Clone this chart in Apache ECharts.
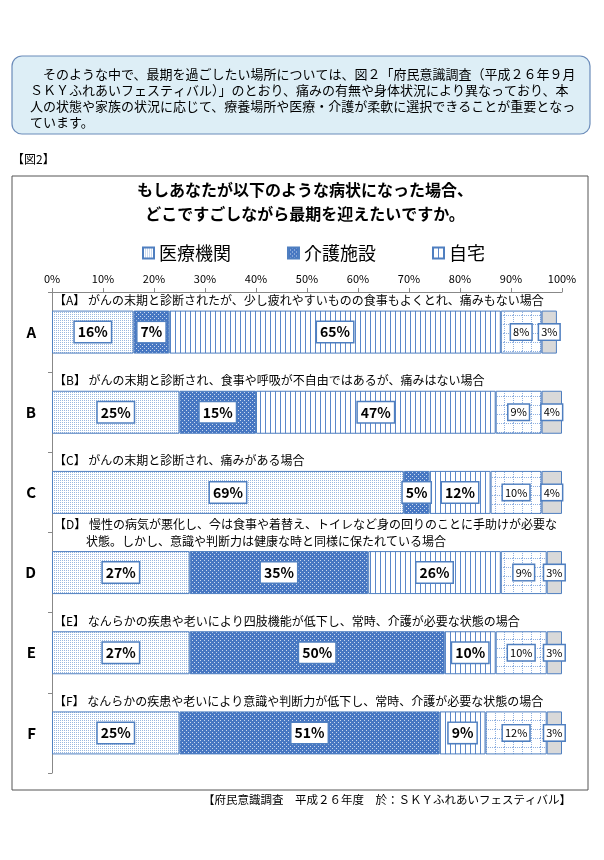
<!DOCTYPE html>
<html><head><meta charset="utf-8">
<script src="https://cdn.jsdelivr.net/npm/echarts@6/dist/echarts.min.js"></script>
<style>html,body{margin:0;padding:0;background:#fff}#c{width:604px;height:860px}</style>
</head><body><div id="c"></div>
<script>
const categories = ['A','B','C','D','E','F'];
const seriesNames = ['医療機関','介護施設','自宅','その他','無回答'];
const iryo   = [16,25,69,27,27,25];
const kaigo  = [7,15,5,35,50,51];
const jitaku = [65,47,12,26,10,9];
const other  = [8,9,10,9,10,12];
const noans  = [3,4,4,3,3,3];
const xTicks = [0,10,20,30,40,50,60,70,80,90,100];
const caseLines = [
  ['【A】 がんの末期と診断されたが、少し疲れやすいものの食事もよくとれ、痛みもない場合'],
  ['【B】 がんの末期と診断され、食事や呼吸が不自由ではあるが、痛みはない場合'],
  ['【C】 がんの末期と診断され、痛みがある場合'],
  ['【D】 慢性の病気が悪化し、今は食事や着替え、トイレなど身の回りのことに手助けが必要な','状態。しかし、意識や判断力は健康な時と同様に保たれている場合'],
  ['【E】 なんらかの疾患や老いにより四肢機能が低下し、常時、介護が必要な状態の場合'],
  ['【F】 なんらかの疾患や老いにより意識や判断力が低下し、常時、介護が必要な状態の場合']
];
const introLines = [
  '　そのような中で、最期を過ごしたい場所については、図２「府民意識調査（平成２６年９月',
  'ＳＫＹふれあいフェスティバル）」のとおり、痛みの有無や身体状況により異なっており、本',
  '人の状態や家族の状況に応じて、療養場所や医療・介護が柔軟に選択できることが重要となっ',
  'ています。'
];
const figLabel = '【図2】';
const chartTitle = 'もしあなたが以下のような病状になった場合、\nどこですごしながら最期を迎えたいですか。';
const footer = '【府民意識調査　平成２６年度　於：ＳＫＹふれあいフェスティバル】';

const FONT = '"Noto Sans CJK JP", "Noto Sans", sans-serif';
function pat(w,h,bg,fg,pts){
  const c=document.createElement('canvas'); c.width=w; c.height=h;
  const x=c.getContext('2d'); x.fillStyle=bg; x.fillRect(0,0,w,h);
  x.fillStyle=fg; pts.forEach(p=>x.fillRect(p[0],p[1],p[2]||1,p[3]||1));
  return {image:c, repeat:'repeat'};
}
const p1 = pat(4,4,'#ffffff','#9ab8e0',[[0,0],[2,2],[2,0],[0,2]]);
const p2 = pat(4,4,'#4777c2','#c9d8ee',[[0,0],[2,2]]);
const p3 = pat(5,4,'#ffffff','#5b87c9',[[0,0,1,4]]);
const gridPts=[]; for(let i=0;i<9;i+=2){gridPts.push([i,0]);gridPts.push([0,i]);}
const p4 = pat(9,9,'#ffffff','#8fb0e0',gridPts);
const p5 = '#d9d9d9';
const pats=[p1,p2,p3,p4,p5];
const dataSets=[iryo,kaigo,jitaku,other,noans];

const chart = echarts.init(document.getElementById('c'));
const BAR=43;
const series = dataSets.map((d,i)=>({
  name: seriesNames[i], type:'bar', stack:'total', barWidth:BAR, data:d,
  itemStyle:{color:pats[i], borderColor:'#4f7fc0', borderWidth:1},
  label:{show:true, position:'inside', formatter:'{c}%', color:'#000', fontFamily:FONT,
    fontSize: i<3?14:11, fontWeight: i<3?'bold':'normal',
    backgroundColor:'#fff', borderColor:'#4f7fc0', borderWidth:1.5,
    padding: i<3?[3,3]:[2,2]},
  emphasis:{disabled:true}
}));
series.push({
  type:'custom', silent:true, clip:false, z:10,
  data: categories.map((c,i)=>[0,i]),
  renderItem:(params, api)=>{
    const p = api.coord([0, api.value(1)]);
    const lines = caseLines[params.dataIndex];
    const top = p[1] - BAR/2 - 4;
    const children = lines.map((t,k)=>({
      type:'text',
      style:{text:t, x:p[0] + 2 + (k>0?32:0), y: top - (lines.length-1-k)*17,
        verticalAlign:'bottom', align:'left', fontSize:12, fontFamily:FONT, fill:'#000'}
    }));
    return {type:'group', children};
  }
});

chart.setOption({
  animation:false,
  textStyle:{fontFamily:FONT},
  grid:{left:52, right:42, top:292, bottom:87},
  legend:{data:seriesNames.slice(0,3), icon:'rect', left:137, top:239, itemWidth:11, itemHeight:11, itemGap:56,
    textStyle:{fontSize:18, color:'#000', fontFamily:FONT}, selectedMode:false},
  xAxis:{type:'value', position:'top', min:0, max:100, interval:10,
    axisLabel:{formatter:v=>xTicks.includes(v)?v+'%':'', fontSize:11, color:'#000', margin:8},
    axisLine:{show:true, lineStyle:{color:'#888'}},
    axisTick:{show:true, length:4, lineStyle:{color:'#888'}},
    splitLine:{show:false}},
  yAxis:{type:'category', inverse:true, data:categories,
    axisLabel:{fontSize:15, fontWeight:'bold', color:'#000', margin:16},
    axisLine:{show:true, lineStyle:{color:'#888'}},
    axisTick:{show:true, length:4, lineStyle:{color:'#888'}}},
  series,
  graphic:[
    {type:'rect', shape:{x:12, y:56, width:578, height:78, r:10}, style:{fill:'#ddeef6', stroke:'#6b8cba', lineWidth:1.2}, z:0},
    {type:'text', style:{text:introLines.join('\n'), x:30, y:66, fontSize:13, lineHeight:16, fontFamily:FONT, fill:'#000'}},
    {type:'text', style:{text:figLabel, x:12, y:153, fontSize:12, fontFamily:FONT, fill:'#000'}},
    {type:'rect', shape:{x:12, y:176, width:576, height:614}, style:{fill:'none', stroke:'#555', lineWidth:1}, z:-1},
    {type:'text', style:{text:chartTitle, x:305, y:178, align:'center', fontSize:16, fontWeight:'bold', lineHeight:24, fontFamily:FONT, fill:'#000'}},
    {type:'text', style:{text:footer, x:571, y:800, align:'right', verticalAlign:'middle', fontSize:11.5, fontFamily:FONT, fill:'#000'}}
  ]
});
</script></body></html>
